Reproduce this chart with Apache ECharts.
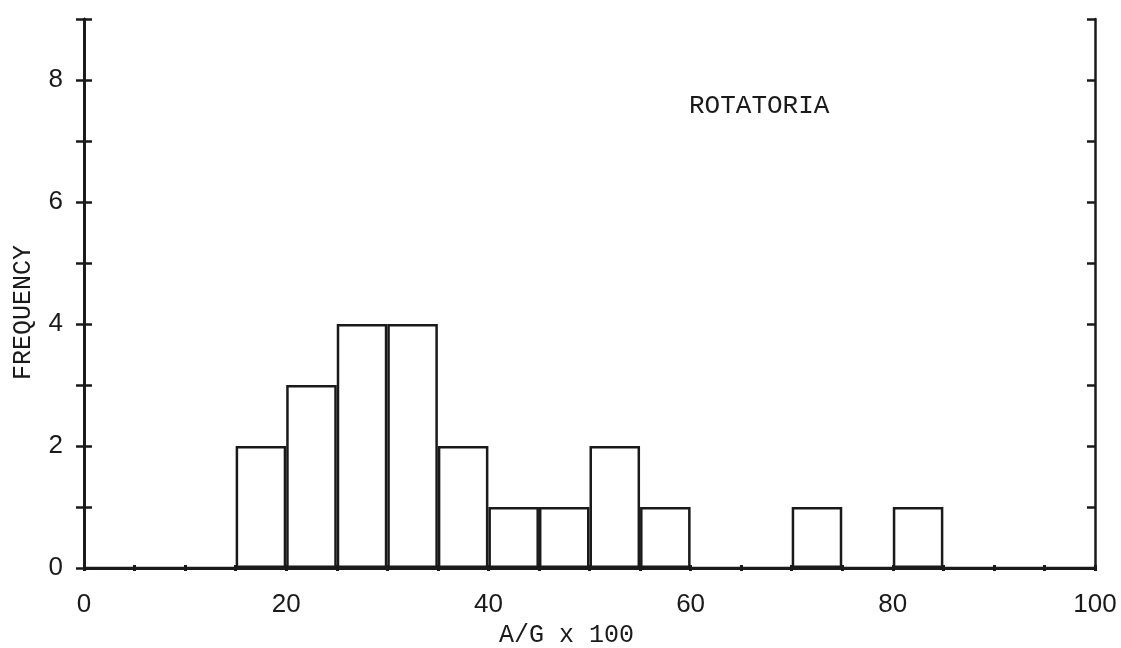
<!DOCTYPE html>
<html>
<head>
<meta charset="utf-8">
<script src="https://cdn.jsdelivr.net/npm/echarts@6/dist/echarts.min.js"></script>
<style>
  html, body { margin: 0; padding: 0; background: #fff; }
  #main { width: 1121px; height: 648px; }
</style>
</head>
<body>
<div id="main"></div>
<script>
// histogram bins of width 5, from 0 to 100
const bins = ['0-5', '5-10', '10-15', '15-20', '20-25', '25-30', '30-35', '35-40', '40-45', '45-50',
  '50-55', '55-60', '60-65', '65-70', '70-75', '75-80', '80-85', '85-90', '90-95', '95-100'];
const frequency = [0, 0, 0, 2, 3, 4, 4, 2, 1, 1, 2, 1, 0, 0, 1, 0, 1, 0, 0, 0];

const ink = '#1a1a1a';
const mono = 'Liberation Mono';

const myChart = echarts.init(document.getElementById('main'));

// y axis: same scale, drawn twice on each side so ticks cross the line
const yBase = {
  type: 'value',
  min: 0,
  max: 9,
  interval: 1,
  splitLine: { show: false },
  axisLine: { show: true, lineStyle: { color: ink, width: 2.5 } },
  axisTick: { show: true, length: 8, lineStyle: { color: ink, width: 2.5 } },
  axisLabel: { show: false },
};

// top / bottom dots every 5 units
const xDots = (pos) => ({
  type: 'value',
  position: pos,
  min: 0,
  max: 100,
  interval: 5,
  splitLine: { show: false },
  axisLine: { show: true, lineStyle: { color: ink, width: 2.5 } },
  axisTick: { show: true, inside: true, length: 3, lineStyle: { color: ink, width: 3 } },
  axisLabel: { show: false },
});

const option = {
  animation: false,
  backgroundColor: '#fff',
  grid: { left: 84, right: 26, top: 19, bottom: 80, containLabel: false, outerBoundsMode: 'none' },
  title: {
    text: 'ROTATORIA',
    left: 684,
    top: 88,
    textStyle: { fontFamily: mono, fontSize: 26, fontWeight: 'normal', color: ink },
  },
  graphic: [{
    type: 'text',
    left: 11,
    top: 245,
    rotation: Math.PI / 2,
    style: { text: 'FREQUENCY', font: '25px "Liberation Mono"', fill: ink },
  }],
  xAxis: [
    {
      type: 'value',
      position: 'bottom',
      min: 0,
      max: 100,
      interval: 20,
      splitLine: { show: false },
      axisLine: { show: true, lineStyle: { color: ink, width: 2.5 } },
      axisTick: { show: false },
      axisLabel: { margin: 24, fontFamily: 'Liberation Sans', fontSize: 26, color: ink },
      name: 'A/G x 100',
      nameLocation: 'middle',
      nameGap: 53,
      nameTextStyle: { fontFamily: mono, fontSize: 25, color: ink, padding: [0, 0, 0, -46] },
    },
    xDots('bottom'),
    xDots('top'),
    {
      type: 'category',
      data: bins,
      position: 'bottom',
      boundaryGap: true,
      show: false,
    },
  ],
  yAxis: [
    Object.assign({}, yBase, {
      position: 'left',
      axisLabel: {
        show: true,
        margin: 21,
        fontFamily: 'Liberation Sans',
        fontSize: 26,
        color: ink,
        formatter: (v) => (v % 2 === 0 && v < 9 ? String(v) : ''),
      },
    }),
    Object.assign({}, yBase, { position: 'left', axisTick: Object.assign({}, yBase.axisTick, { inside: true }) }),
    Object.assign({}, yBase, { position: 'right' }),
    Object.assign({}, yBase, { position: 'right', axisTick: Object.assign({}, yBase.axisTick, { inside: true }) }),
  ],
  series: [{
    type: 'bar',
    xAxisIndex: 3,
    yAxisIndex: 0,
    data: frequency,
    barWidth: '100%',
    barCategoryGap: 0,
    itemStyle: { color: '#fff', borderColor: ink, borderWidth: 2.5 },
    silent: true,
  }],
};

myChart.setOption(option);
</script>
</body>
</html>
